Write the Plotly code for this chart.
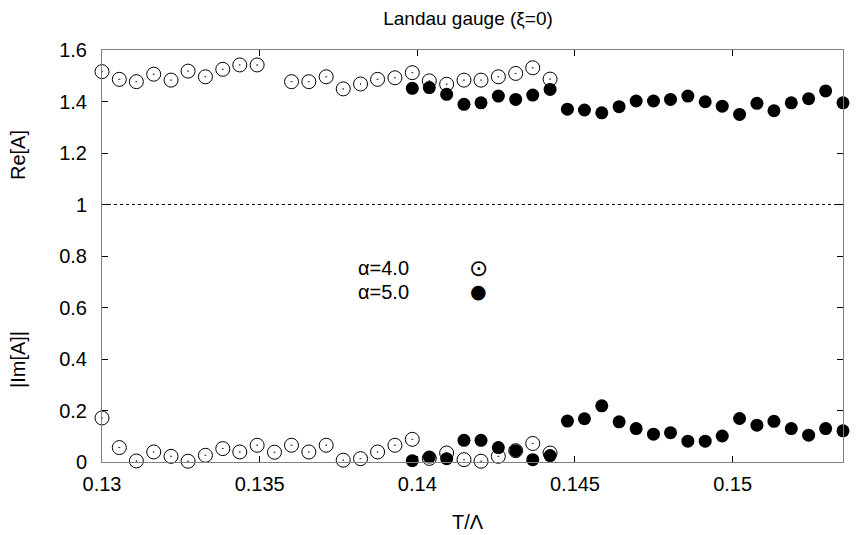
import plotly.graph_objects as go

# ---- data ----
T_a4 = [0.13000, 0.13055, 0.13109, 0.13164, 0.13219, 0.13273, 0.13328, 0.13383, 0.13437,
        0.13492, 0.13547, 0.13601, 0.13656, 0.13711, 0.13765, 0.13820, 0.13874, 0.13929,
        0.13984, 0.14038, 0.14093, 0.14148, 0.14202, 0.14257, 0.14312, 0.14366, 0.14421]
Re_a4 = [1.516, 1.486, 1.477, 1.506, 1.483, 1.518, 1.496, 1.525, 1.542,
         1.542, None, 1.477, 1.477, 1.496, 1.449, 1.468, 1.486, 1.492,
         1.512, 1.480, 1.467, 1.483, 1.483, 1.496, 1.509, 1.531, 1.487]
Im_a4 = [0.171, 0.056, 0.004, 0.039, 0.022, 0.003, 0.026, 0.052, 0.039,
         0.065, 0.038, 0.065, 0.039, 0.065, 0.007, 0.013, 0.039, 0.065,
         0.088, 0.014, 0.035, 0.009, 0.003, 0.022, 0.044, 0.072, 0.035]

T_a5 = [0.13984, 0.14038, 0.14093, 0.14148, 0.14202, 0.14257, 0.14312, 0.14366, 0.14421,
        0.14476, 0.14530, 0.14585, 0.14640, 0.14694, 0.14749, 0.14803, 0.14858, 0.14913,
        0.14967, 0.15022, 0.15077, 0.15131, 0.15186, 0.15241, 0.15295, 0.15350]
Re_a5 = [1.451, 1.454, 1.428, 1.389, 1.395, 1.421, 1.408, 1.425, 1.447,
         1.370, 1.367, 1.356, 1.380, 1.402, 1.402, 1.408, 1.421, 1.399,
         1.382, 1.350, 1.393, 1.364, 1.395, 1.411, 1.441, 1.395]
Im_a5 = [0.005, 0.019, 0.013, 0.084, 0.084, 0.056, 0.044, 0.009, 0.025,
         0.159, 0.168, 0.218, 0.156, 0.130, 0.108, 0.114, 0.081, 0.081,
         0.101, 0.169, 0.143, 0.158, 0.130, 0.104, 0.130, 0.121]

x_ticks = [0.13, 0.135, 0.14, 0.145, 0.15]
x_ticktext = ["0.13", "0.135", "0.14", "0.145", "0.15"]
y_ticks = [0, 0.2, 0.4, 0.6, 0.8, 1.0, 1.2, 1.4, 1.6]
y_ticktext = ["0", "0.2", "0.4", "0.6", "0.8", "1", "1.2", "1.4", "1.6"]
x_range = [0.13, 0.1535]
y_range = [0, 1.6]
ref_level = 1.0

FONT = "Liberation Sans, Arial, sans-serif"
FS = 20

fig = go.Figure()

open_marker = dict(symbol="circle-open-dot", size=14, color="black",
                   line=dict(width=1, color="black"))
fill_marker = dict(symbol="circle", size=13, color="black",
                   line=dict(width=0))

for yvals in (Re_a4, Im_a4):
    fig.add_trace(go.Scatter(x=T_a4, y=yvals, mode="markers", marker=open_marker,
                             showlegend=False, cliponaxis=False))
for yvals in (Re_a5, Im_a5):
    fig.add_trace(go.Scatter(x=T_a5, y=yvals, mode="markers", marker=fill_marker,
                             showlegend=False, cliponaxis=False))

fig.add_shape(type="line", xref="x", yref="y", x0=x_range[0], x1=x_range[1],
              y0=ref_level, y1=ref_level, line=dict(color="black", width=1, dash="dot"),
              layer="below")

axis_common = dict(showgrid=False, zeroline=False, showline=True, linecolor="#808080",
                   linewidth=1, mirror="ticks", ticks="inside", ticklen=6,
                   tickcolor="black", tickwidth=1,
                   tickfont=dict(family=FONT, size=FS, color="black"))

fig.update_xaxes(range=x_range, tickvals=x_ticks, ticktext=x_ticktext,
                 ticklabelstandoff=4, **axis_common)
fig.update_yaxes(range=y_range, tickvals=y_ticks, ticktext=y_ticktext,
                 ticklabelstandoff=10, **axis_common)

# plot area: x 102..843 px, y 50..462 px
L, R, TOP, BOT = 102, 843, 50, 462
W, H = R - L, BOT - TOP

def px(xp):
    return (xp - L) / W

def py(yp):
    return (BOT - yp) / H

ann_font = dict(family=FONT, size=FS, color="black")
annotations = [
    dict(text="Re[A]", x=px(18), y=py(155), textangle=-90),
    dict(text="|Im[A]|", x=px(18), y=py(360), textangle=-90),
    dict(text="T/Λ", x=px(468), y=py(522)),
    dict(text="α=4.0", x=px(411), y=py(268), xanchor="right"),
    dict(text="α=5.0", x=px(411), y=py(292), xanchor="right"),
    dict(text="⊙", x=px(478), y=py(268), font=dict(family="DejaVu Sans", size=23, color="black")),
    dict(text="●", x=px(478), y=py(291), font=dict(family="DejaVu Sans", size=19, color="black")),
]
for a in annotations:
    a.setdefault("xanchor", "center")
    a.setdefault("yanchor", "middle")
    a.setdefault("font", ann_font)
    a.update(xref="paper", yref="paper", showarrow=False)

fig.update_layout(
    width=856, height=535,
    margin=dict(l=L, r=856 - R, t=TOP, b=535 - BOT, pad=0),
    paper_bgcolor="white", plot_bgcolor="white",
    title=dict(text="Landau gauge (ξ=0)", x=px(468), xref="paper", xanchor="center",
               y=1 - 18 / 535, yref="container", yanchor="middle",
               font=dict(family=FONT, size=19, color="black")),
    annotations=annotations,
    showlegend=False,
)

fig.write_html("out.html", config={"displayModeBar": False},
               post_script="document.body.style.margin='0';document.body.style.padding='0';")
